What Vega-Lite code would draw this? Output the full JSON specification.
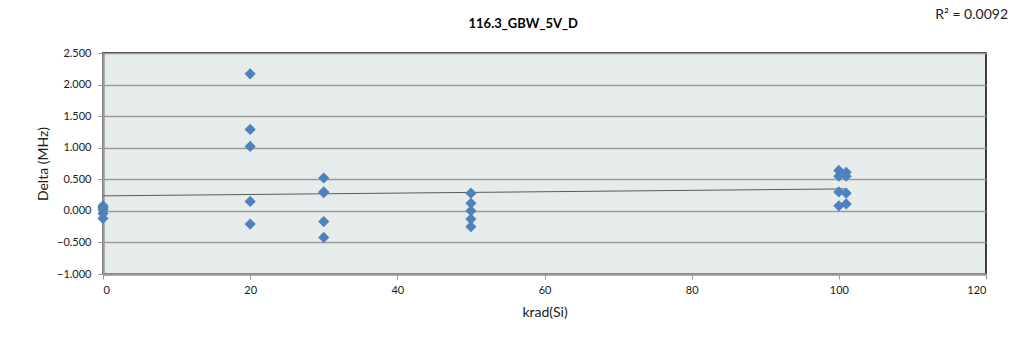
{
  "$schema": "https://vega.github.io/schema/vega-lite/v6.json",
  "width": 883,
  "height": 221,
  "autosize": {"type": "none"},
  "padding": {"left": 103, "top": 53, "right": 40, "bottom": 70},
  "background": "white",
  "config": {
    "view": {"fill": "#E6ECEC", "stroke": "#000000", "strokeWidth": 1.5},
    "font": "Lato"
  },
  "title": {
    "text": "116.3_GBW_5V_D",
    "font": "Lato",
    "fontSize": 13,
    "fontWeight": "bold",
    "color": "#000000",
    "anchor": "middle",
    "frame": "bounds",
    "offset": -23,
    "dx": 1
  },
  "datasets": {
    "points": [
      {"krad": 0, "delta": 0.08},
      {"krad": 0, "delta": 0.05},
      {"krad": 0, "delta": 0.02},
      {"krad": 0, "delta": -0.04},
      {"krad": 0, "delta": -0.12},
      {"krad": 20, "delta": 2.17},
      {"krad": 20, "delta": 1.29},
      {"krad": 20, "delta": 1.02},
      {"krad": 20, "delta": 0.15},
      {"krad": 20, "delta": -0.21},
      {"krad": 30, "delta": 0.52},
      {"krad": 30, "delta": 0.30},
      {"krad": 30, "delta": 0.29},
      {"krad": 30, "delta": -0.17},
      {"krad": 30, "delta": -0.42},
      {"krad": 50, "delta": 0.28},
      {"krad": 50, "delta": 0.12},
      {"krad": 50, "delta": 0.00},
      {"krad": 50, "delta": -0.13},
      {"krad": 50, "delta": -0.25},
      {"krad": 100, "delta": 0.64},
      {"krad": 100, "delta": 0.55},
      {"krad": 100, "delta": 0.30},
      {"krad": 100, "delta": 0.08},
      {"krad": 101, "delta": 0.61},
      {"krad": 101, "delta": 0.55},
      {"krad": 101, "delta": 0.28},
      {"krad": 101, "delta": 0.11}
    ],
    "notes": [{"label": "R² = 0.0092", "krad": 120, "delta": 2.5}]
  },
  "encoding": {
    "x": {
      "field": "krad",
      "type": "quantitative",
      "scale": {"domain": [0, 120], "nice": false, "zero": false},
      "axis": {
        "title": "krad(Si)",
        "values": [0, 20, 40, 60, 80, 100, 120],
        "grid": false,
        "labelOverlap": false,
        "domainColor": "#9A9A9A",
        "domainWidth": 2.5,
        "tickColor": "#9A9A9A",
        "tickSize": 5,
        "labelFont": "Lato",
        "labelFontSize": 11,
        "labelColor": "#1A1A1A",
        "labelPadding": 5,
        "titleFont": "Lato",
        "titleFontSize": 14,
        "titleFontWeight": "normal",
        "titleColor": "#1A1A1A",
        "titlePadding": 10
      }
    },
    "y": {
      "field": "delta",
      "type": "quantitative",
      "scale": {"domain": [-1, 2.5], "nice": false, "zero": false},
      "axis": {
        "title": "Delta (MHz)",
        "values": [-1, -0.5, 0, 0.5, 1, 1.5, 2, 2.5],
        "format": ".3f",
        "grid": true,
        "labelOverlap": false,
        "gridColor": "#9A9A9A",
        "gridWidth": 1.5,
        "domainColor": "#9A9A9A",
        "domainWidth": 2.5,
        "tickColor": "#9A9A9A",
        "tickSize": 5,
        "labelFont": "Lato",
        "labelFontSize": 11,
        "labelColor": "#1A1A1A",
        "labelPadding": 7,
        "titleFont": "Lato",
        "titleFontSize": 14,
        "titleFontWeight": "normal",
        "titleColor": "#1A1A1A",
        "titlePadding": 6
      }
    }
  },
  "layer": [
    {
      "data": {"name": "points"},
      "transform": [{"regression": "delta", "on": "krad", "extent": [0, 101]}],
      "mark": {"type": "line", "color": "#5A5A5A", "strokeWidth": 1}
    },
    {
      "data": {"name": "points"},
      "mark": {"type": "point", "shape": "diamond", "filled": true, "size": 125, "color": "#4F81BD", "opacity": 1}
    },
    {
      "data": {"name": "notes"},
      "mark": {"type": "text", "align": "right", "baseline": "middle", "dx": 22, "dy": -38, "font": "Lato", "fontSize": 14, "color": "#1A1A1A"},
      "encoding": {
        "text": {"field": "label"}
      }
    }
  ]
}
